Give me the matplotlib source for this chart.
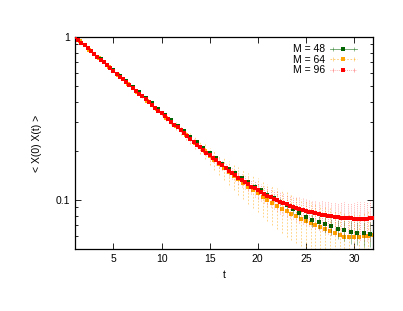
import numpy as np
import matplotlib
matplotlib.use('Agg')
import matplotlib.pyplot as plt
from matplotlib.lines import Line2D
from matplotlib.legend_handler import HandlerLine2D
from matplotlib.ticker import FuncFormatter, NullFormatter, FixedLocator

plt.rcParams['font.family'] = ['Liberation Sans', 'DejaVu Sans']

## Données ##
# M = 48 : pas de 2/3
c48 = [1.000, 0.925, 0.855, 0.791, 0.731, 0.676, 0.625, 0.578, 0.535, 0.494,
       0.457, 0.423, 0.391, 0.361, 0.334, 0.309, 0.286, 0.264, 0.244, 0.226,
       0.209, 0.194, 0.180, 0.167, 0.156, 0.146, 0.137, 0.129, 0.121, 0.115,
       0.108, 0.103, 0.0977, 0.0927, 0.0881, 0.0836, 0.0791, 0.0755, 0.0731, 0.0708,
       0.0689, 0.0668, 0.0652, 0.0641, 0.0632, 0.0625, 0.0622]
e48 = [0.000, 0.000, 0.001, 0.001, 0.001, 0.001, 0.002, 0.002, 0.002, 0.002,
       0.002, 0.003, 0.003, 0.003, 0.003, 0.003, 0.003, 0.003, 0.003, 0.003,
       0.003, 0.003, 0.003, 0.004, 0.004, 0.004, 0.004, 0.004, 0.004, 0.004,
       0.005, 0.005, 0.005, 0.005, 0.006, 0.006, 0.006, 0.007, 0.007, 0.008,
       0.008, 0.009, 0.009, 0.010, 0.010, 0.011, 0.011]

# M = 64 : pas de 1/2
c64 = [1.000, 0.942, 0.887, 0.835, 0.787, 0.741, 0.698, 0.657, 0.619, 0.583,
       0.550, 0.518, 0.488, 0.459, 0.433, 0.407, 0.384, 0.361, 0.340, 0.320,
       0.302, 0.284, 0.268, 0.252, 0.238, 0.224, 0.211, 0.199, 0.187, 0.176,
       0.166, 0.157, 0.149, 0.141, 0.134, 0.127, 0.121, 0.115, 0.110, 0.105,
       0.1002, 0.0959, 0.0920, 0.0885, 0.0853, 0.0822, 0.0794, 0.0769, 0.0746, 0.0724,
       0.0705, 0.0684, 0.0664, 0.0643, 0.0624, 0.0608, 0.0597, 0.0592, 0.0590, 0.0593,
       0.0598, 0.0605, 0.0612]
e64 = [0.000, 0.001, 0.001, 0.002, 0.002, 0.003, 0.003, 0.004, 0.004, 0.005,
       0.005, 0.006, 0.006, 0.007, 0.008, 0.009, 0.010, 0.011, 0.012, 0.013,
       0.014, 0.015, 0.016, 0.017, 0.018, 0.019, 0.020, 0.021, 0.022, 0.023,
       0.024, 0.025, 0.025, 0.026, 0.026, 0.026, 0.026, 0.026, 0.026, 0.026,
       0.026, 0.026, 0.026, 0.026, 0.026, 0.025, 0.025, 0.025, 0.025, 0.025,
       0.025, 0.025, 0.025, 0.025, 0.025, 0.025, 0.025, 0.025, 0.025, 0.025,
       0.025, 0.025, 0.025]

# M = 96 : pas de 1/3
c96 = [1.000, 0.961, 0.923, 0.887, 0.852, 0.819, 0.787, 0.756, 0.727,
       0.698, 0.671, 0.645, 0.619, 0.595, 0.572, 0.550, 0.528, 0.507,
       0.488, 0.469, 0.450, 0.433, 0.416, 0.399, 0.384, 0.369, 0.354,
       0.340, 0.327, 0.314, 0.302, 0.290, 0.279, 0.268, 0.257, 0.247,
       0.238, 0.228, 0.219, 0.211, 0.203, 0.195, 0.188, 0.181, 0.175,
       0.168, 0.163, 0.157, 0.151, 0.146, 0.142, 0.137, 0.133, 0.129,
       0.125, 0.121, 0.118, 0.115, 0.112, 0.109, 0.106, 0.104, 0.102,
       0.0995, 0.0975, 0.0957, 0.0940, 0.0925, 0.0910, 0.0895, 0.0883, 0.0871,
       0.0859, 0.0849, 0.0839, 0.0830, 0.0822, 0.0815, 0.0807, 0.0800, 0.0794,
       0.0789, 0.0783, 0.0780, 0.0776, 0.0773, 0.0771, 0.0769, 0.0767, 0.0767,
       0.0769, 0.0769, 0.0771, 0.0773]
e96 = [0.000, 0.000, 0.001, 0.001, 0.001, 0.001, 0.002, 0.002, 0.002,
       0.002, 0.003, 0.003, 0.003, 0.003, 0.003, 0.004, 0.004, 0.004,
       0.004, 0.004, 0.005, 0.005, 0.005, 0.005, 0.005, 0.006, 0.006,
       0.006, 0.006, 0.006, 0.007, 0.007, 0.007, 0.007, 0.007, 0.008,
       0.008, 0.008, 0.008, 0.008, 0.009, 0.009, 0.009, 0.009, 0.010,
       0.010, 0.010, 0.010, 0.011, 0.011, 0.011, 0.011, 0.012, 0.012,
       0.012, 0.012, 0.013, 0.013, 0.013, 0.013, 0.014, 0.014, 0.014,
       0.014, 0.015, 0.015, 0.015, 0.015, 0.015, 0.015, 0.016, 0.016,
       0.016, 0.016, 0.016, 0.017, 0.017, 0.017, 0.017, 0.018, 0.018,
       0.018, 0.018, 0.019, 0.019, 0.019, 0.019, 0.019, 0.020, 0.020,
       0.020, 0.021, 0.021, 0.022]

t48 = 1 + np.arange(len(c48)) * 2 / 3
t64 = 1 + np.arange(len(c64)) * 0.5
t96 = 1 + np.arange(len(c96)) / 3

## Tracé ##
fig = plt.figure(figsize=(4.03, 3.11), dpi=100)
ax = fig.add_axes([0.186, 0.199, 0.740, 0.682])

green = '#006400'
orange = '#ffa500'
red = '#ff0000'

eb = ax.errorbar(t48, c48, yerr=e48, fmt='s', color=green, ms=3.0, mew=0,
                 ecolor=green, elinewidth=0.5, capsize=1.8, capthick=0.5, zorder=3)
for lc in eb[2] + eb[1]:
    lc.set_alpha(0.55)
eb = ax.errorbar(t64, c64, yerr=e64, fmt='s', color=orange, ms=3.0, mew=0,
                 ecolor=orange, elinewidth=0.6, capsize=1.3, capthick=0.5, zorder=2)
for lc in eb[2]:
    lc.set_linestyle((0, (2, 2)))
    lc.set_alpha(0.55)
for lc in eb[1]:
    lc.set_alpha(0.55)
eb = ax.errorbar(t96, c96, yerr=e96, fmt='s', color=red, ms=3.3, mew=0,
                 ecolor=red, elinewidth=0.6, capsize=1.3, capthick=0.5, zorder=4)
for lc in eb[2]:
    lc.set_linestyle((0, (1, 1.5)))
    lc.set_alpha(0.45)
for lc in eb[1]:
    lc.set_alpha(0.45)

ax.set_yscale('log')
ax.set_xlim(1, 32)
ax.set_ylim(0.05, 1)
ax.xaxis.set_major_locator(FixedLocator([5, 10, 15, 20, 25, 30]))
ax.yaxis.set_major_formatter(FuncFormatter(lambda v, p: '%g' % v))
ax.yaxis.set_minor_formatter(NullFormatter())
ax.tick_params(which='both', direction='in', top=True, right=True, labelsize=7.5)
ax.tick_params(which='major', length=4.5, width=0.6)
ax.tick_params(which='minor', length=2.5, width=0.6)
for s in ax.spines.values():
    s.set_linewidth(0.9)

ax.set_xlabel('t', fontsize=7.5, labelpad=4)
ax.set_ylabel('< X(0) X(t) >', fontsize=7.5, labelpad=10)

# légende façon gnuplot
hands = []
caps = {}
for col, ls, a in [(green, '-', 0.6), (orange, (0, (2, 2)), 0.6), (red, (0, (1, 1.5)), 0.45)]:
    l1 = Line2D([], [], color=col, lw=0.6, ls=ls, alpha=a)
    l2 = Line2D([], [], color=col, lw=0, marker='|', ms=3, mew=0.5, alpha=a)
    l3 = Line2D([], [], color=col, lw=0, marker='s', ms=3, mew=0)
    caps[l2] = HandlerLine2D(numpoints=2)
    hands.append((l1, l2, l3))
ax.legend(hands, ['M = 48', 'M = 64', 'M = 96'], loc='upper right',
          frameon=False, fontsize=7.5, markerfirst=False, handlelength=2.6,
          handletextpad=0.5, labelspacing=0.05, borderaxespad=0.3,
          bbox_to_anchor=(0.97, 1.0), handler_map=caps, numpoints=1)

plt.savefig('out.png', dpi=100)
